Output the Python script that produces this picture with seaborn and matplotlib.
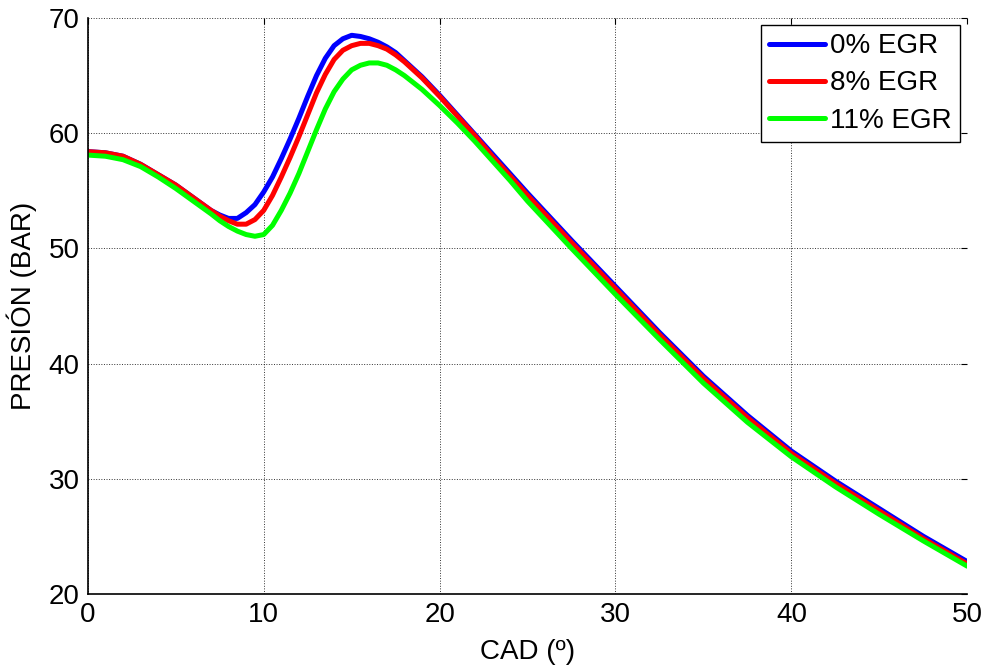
import pandas as pd
import matplotlib
matplotlib.use("Agg")
import matplotlib.pyplot as plt
import seaborn as sns

# Datos (CAD en grados, presión en bar)
cad = [0, 1, 2, 3, 4, 5, 6, 7, 7.5, 8, 8.5, 9, 9.5, 10, 10.5, 11, 11.5, 12,
       12.5, 13, 13.5, 14, 14.5, 15, 15.5, 16, 16.5, 17, 17.5, 18, 18.5, 19,
       20, 21, 22, 23, 24, 25, 27.5, 30, 32.5, 35, 37.5, 40, 42.5, 45, 47.5, 50]

p_egr0 = [58.4, 58.3, 58.0, 57.3, 56.4, 55.5, 54.4, 53.3, 52.9, 52.6, 52.6,
          53.1, 53.8, 54.9, 56.2, 57.8, 59.5, 61.3, 63.2, 65.0, 66.5, 67.6,
          68.2, 68.5, 68.4, 68.2, 67.9, 67.5, 67.0, 66.3, 65.6, 64.9,
          63.3, 61.6, 59.9, 58.2, 56.5, 54.8, 50.7, 46.7, 42.7, 38.9, 35.5,
          32.4, 29.8, 27.4, 25.0, 22.8]

p_egr8 = [58.4, 58.3, 58.0, 57.3, 56.4, 55.5, 54.4, 53.3, 52.8, 52.4, 52.1,
          52.1, 52.5, 53.3, 54.6, 56.2, 57.9, 59.7, 61.6, 63.5, 65.1, 66.4,
          67.2, 67.6, 67.8, 67.8, 67.6, 67.3, 66.8, 66.2, 65.5, 64.8,
          63.2, 61.5, 59.8, 58.0, 56.3, 54.6, 50.5, 46.5, 42.5, 38.7, 35.3,
          32.2, 29.6, 27.2, 24.8, 22.6]

p_egr11 = [58.1, 58.0, 57.7, 57.1, 56.2, 55.2, 54.1, 53.0, 52.4, 51.9, 51.5,
           51.2, 51.05, 51.2, 52.0, 53.3, 54.8, 56.5, 58.4, 60.3, 62.1, 63.6,
           64.7, 65.5, 65.9, 66.1, 66.1, 65.9, 65.5, 65.0, 64.4, 63.8,
           62.4, 60.9, 59.3, 57.6, 55.9, 54.1, 50.0, 46.0, 42.1, 38.3, 34.9,
           31.9, 29.3, 26.9, 24.6, 22.4]

labels = ['0% EGR', '8% EGR', '11% EGR']
colors = ['#0000ff', '#ff0000', '#00ff00']

df = pd.concat([
    pd.DataFrame({'cad': cad, 'p': p, 'serie': lab})
    for p, lab in zip([p_egr0, p_egr8, p_egr11], labels)
])

sns.set_style("white")
plt.rcParams['font.family'] = ['Liberation Sans', 'DejaVu Sans']
plt.rcParams['text.color'] = 'black'
plt.rcParams['axes.labelcolor'] = 'black'

fig = plt.figure(figsize=(9.87, 6.68), dpi=100)
ax = fig.add_axes([0.089, 0.111, 0.891, 0.862])

sns.lineplot(data=df, x='cad', y='p', hue='serie', hue_order=labels,
             palette=colors, linewidth=3.6, ax=ax)

ax.set_xlim(0, 50)
ax.set_ylim(20, 70)
ax.set_xticks(range(0, 51, 10))
ax.set_yticks(range(20, 71, 10))
ax.grid(True, color='black', linestyle=':', linewidth=0.7, alpha=0.8)
ax.tick_params(direction='in', length=4, width=0.8, labelsize=20,
               colors='black', top=True, right=True, pad=6)

for side in ['left', 'bottom']:
    ax.spines[side].set_color('black')
    ax.spines[side].set_linewidth(1.2)
for side in ['top', 'right']:
    ax.spines[side].set_visible(False)

ax.set_xlabel('CAD (º)', fontsize=20, labelpad=8)
ax.set_ylabel('PRESIÓN (BAR)', fontsize=20, labelpad=8)

leg = ax.legend(loc='upper right', fontsize=20, frameon=True, fancybox=False,
                handlelength=2.0, handletextpad=0.2, borderpad=0.3,
                labelspacing=0.4, borderaxespad=0.25)
leg.get_frame().set_edgecolor('black')
leg.get_frame().set_linewidth(1.0)
leg.get_frame().set_alpha(1)

fig.savefig('out.png', dpi=100)
